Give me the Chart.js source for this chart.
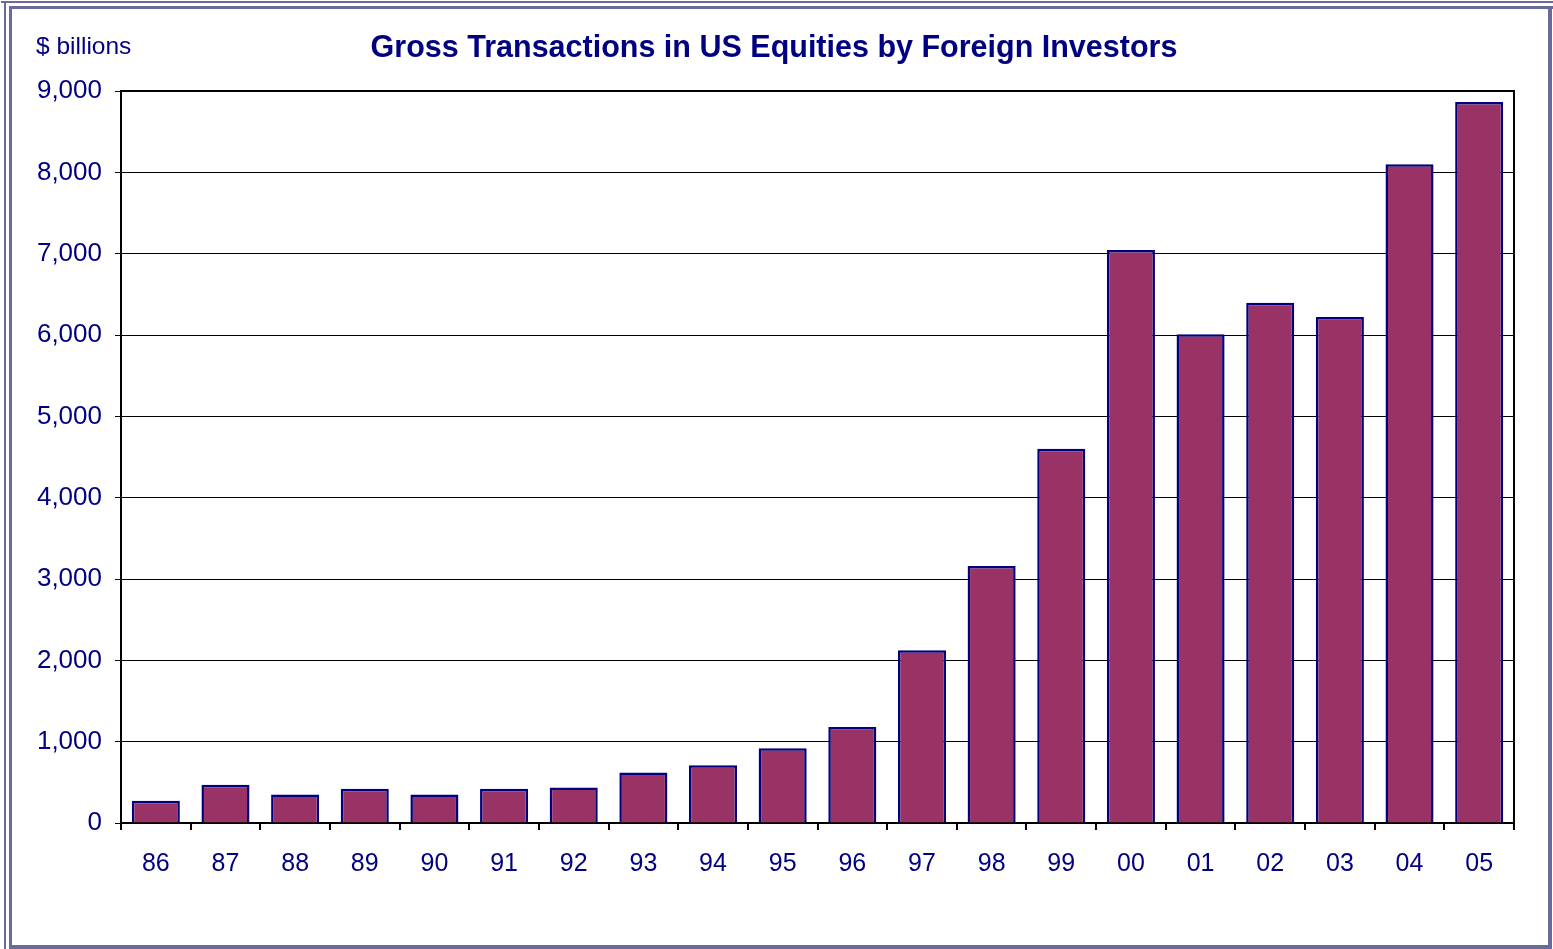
<!DOCTYPE html>
<html>
<head>
<meta charset="utf-8">
<script src="https://cdn.jsdelivr.net/npm/chart.js@4.4.0/dist/chart.umd.min.js"></script>
<style>
  html, body { margin:0; padding:0; background:#fff; }
  #wrap { position:relative; width:1553px; height:949px; overflow:hidden; }
  canvas { position:absolute; left:0; top:0; }
  .b { position:absolute; background:#6a6a9c; }
</style>
</head>
<body>
<div id="wrap">
  <canvas id="c" width="1553" height="949"></canvas>
  <div class="b" style="left:1px;top:1px;width:1552px;height:2px;"></div>
  <div class="b" style="left:4px;top:1px;width:2px;height:948px;"></div>
  <div class="b" style="left:9px;top:6px;width:1544px;height:3px;"></div>
  <div class="b" style="left:9px;top:6px;width:3px;height:943px;"></div>
  <div class="b" style="left:1548px;top:6px;width:4px;height:943px;"></div>
  <div class="b" style="left:9px;top:945px;width:1543px;height:4px;"></div>
</div>
<script>
const categories = ["86","87","88","89","90","91","92","93","94","95","96","97","98","99","00","01","02","03","04","05"];
const values = [275, 470, 350, 420, 350, 420, 435, 620, 710, 920, 1180, 2125, 3160, 4600, 7045, 6010, 6395, 6220, 8100, 8865];
const yTicks = [0,1000,2000,3000,4000,5000,6000,7000,8000,9000];
const titleText = "Gross Transactions in US Equities by Foreign Investors";
const unitText = "$ billions";

const navy = "#000080";
const FONT = "'Liberation Sans', Arial, Helvetica, sans-serif";

const extras = {
  id: 'extras',
  afterDraw(chart) {
    const ctx = chart.ctx;
    const a = chart.chartArea;
    ctx.save();
    ctx.strokeStyle = '#000';
    ctx.lineWidth = 2;
    ctx.beginPath();
    ctx.moveTo(a.left, a.top);
    ctx.lineTo(a.right, a.top);
    ctx.lineTo(a.right, a.bottom);
    ctx.stroke();
    ctx.fillStyle = navy;
    ctx.font = "24.5px " + FONT;
    ctx.textBaseline = 'middle';
    ctx.textAlign = 'left';
    ctx.fillText(unitText, 36, 47);
    ctx.restore();
  }
};

new Chart(document.getElementById('c'), {
  type: 'bar',
  data: {
    labels: categories,
    datasets: [{
      data: values,
      backgroundColor: '#993366',
      borderColor: navy,
      borderWidth: 2.5,
      borderSkipped: 'bottom',
      barPercentage: 0.69,
      categoryPercentage: 1.0
    }]
  },
  options: {
    responsive: false,
    animation: false,
    devicePixelRatio: 1,
    layout: { padding: { left: 34, right: 39, top: 0, bottom: 0 } },
    plugins: {
      legend: { display: false },
      tooltip: { enabled: false },
      title: {
        display: true,
        text: titleText,
        color: navy,
        font: { family: FONT, size: 30.5, weight: 'bold', lineHeight: 1.2 },
        padding: { top: 30, bottom: 24.4 }
      }
    },
    scales: {
      x: {
        afterFit(s) { s.height = 126; },
        grid: { offset: true, drawOnChartArea: false, color: '#000', lineWidth: 2, tickLength: 7 },
        border: { display: true, color: '#000', width: 2 },
        ticks: { color: navy, font: { family: FONT, size: 25 }, padding: 19, maxRotation: 0 }
      },
      y: {
        min: 0, max: 9000,
        afterFit(s) { s.width = 87; },
        afterBuildTicks(s) { s.ticks = yTicks.map(v => ({ value: v })); },
        grid: { color: '#000', lineWidth: 1, tickLength: 6 },
        border: { display: true, color: '#000', width: 2 },
        ticks: {
          color: navy,
          font: { family: FONT, size: 26 },
          padding: 13,
          callback: v => v.toLocaleString('en-US')
        }
      }
    }
  },
  plugins: [extras]
});
</script>
</body>
</html>
